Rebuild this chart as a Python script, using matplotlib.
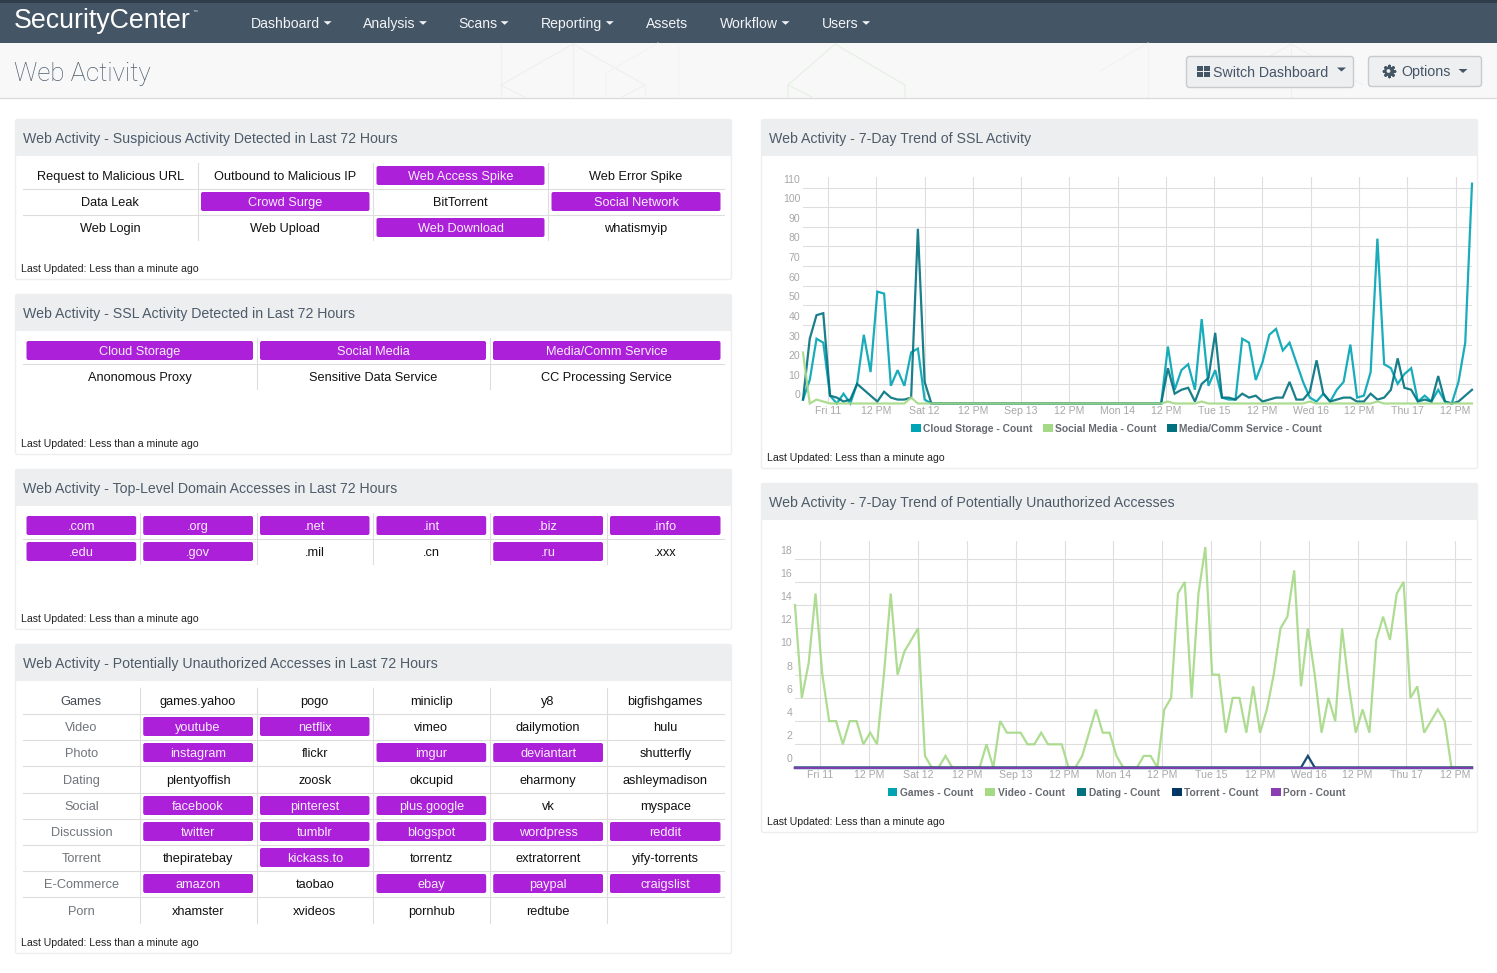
"""SecurityCenter - дашборд Web Activity."""

import matplotlib

matplotlib.use("Agg")
import matplotlib.pyplot as plt
from matplotlib.patches import Circle, FancyBboxPatch, Patch, Polygon, Rectangle
from matplotlib.transforms import ScaledTranslation

W, H = 1497, 973
FONT = "Liberation Sans"
PURPLE = "#ab20d8"
NAVY = "#445566"
GRID = "#dedede"

plt.rcParams["font.family"] = [FONT, "DejaVu Sans"]

# ------------------------------------------------------------------ данные

NAV_ITEMS = ["Dashboard", "Analysis", "Scans", "Reporting", "Assets", "Workflow", "Users"]
NAV_CARET = [True, True, True, True, False, True, True]

SUSPICIOUS = [
    ["Request to Malicious URL", "Outbound to Malicious IP", "Web Access Spike", "Web Error Spike"],
    ["Data Leak", "Crowd Surge", "BitTorrent", "Social Network"],
    ["Web Login", "Web Upload", "Web Download", "whatismyip"],
]
SUSPICIOUS_ON = {"Web Access Spike", "Crowd Surge", "Social Network", "Web Download"}

SSL = [
    ["Cloud Storage", "Social Media", "Media/Comm Service"],
    ["Anonomous Proxy", "Sensitive Data Service", "CC Processing Service"],
]
SSL_ON = {"Cloud Storage", "Social Media", "Media/Comm Service"}

TLD = [
    [".com", ".org", ".net", ".int", ".biz", ".info"],
    [".edu", ".gov", ".mil", ".cn", ".ru", ".xxx"],
]
TLD_ON = {".com", ".org", ".net", ".int", ".biz", ".info", ".edu", ".gov", ".ru"}

UNAUTH = [
    ["Games", "games.yahoo", "pogo", "miniclip", "y8", "bigfishgames"],
    ["Video", "youtube", "netflix", "vimeo", "dailymotion", "hulu"],
    ["Photo", "instagram", "flickr", "imgur", "deviantart", "shutterfly"],
    ["Dating", "plentyoffish", "zoosk", "okcupid", "eharmony", "ashleymadison"],
    ["Social", "facebook", "pinterest", "plus.google", "vk", "myspace"],
    ["Discussion", "twitter", "tumblr", "blogspot", "wordpress", "reddit"],
    ["Torrent", "thepiratebay", "kickass.to", "torrentz", "extratorrent", "yify-torrents"],
    ["E-Commerce", "amazon", "taobao", "ebay", "paypal", "craigslist"],
    ["Porn", "xhamster", "xvideos", "pornhub", "redtube", ""],
]
UNAUTH_ON = {
    "youtube", "netflix", "instagram", "imgur", "deviantart", "facebook", "pinterest",
    "plus.google", "twitter", "tumblr", "blogspot", "wordpress", "reddit", "kickass.to",
    "amazon", "ebay", "paypal", "craigslist",
}

X_TICKS = [3.7, 10.84, 17.99, 25.13, 32.27, 39.41, 46.56, 53.7, 60.84, 67.99, 75.13, 82.27, 89.41, 96.56]
X_LABELS = ["Fri 11", "12 PM", "Sat 12", "12 PM", "Sep 13", "12 PM", "Mon 14",
            "12 PM", "Tue 15", "12 PM", "Wed 16", "12 PM", "Thu 17", "12 PM"]

SSL_YTICKS = [0, 10, 20, 30, 40, 50, 60, 70, 80, 90, 100, 110]
UNAUTH_YTICKS = [0, 2, 4, 6, 8, 10, 12, 14, 16, 18]

cloud_storage = [
    2, 12, 33, 31, 4, 0, 5, 0, 10, 35, 16, 57, 56, 9, 17, 9, 26, 28, 2, 0,
    0, 0, 0, 0, 0, 0, 0, 0, 0, 0, 0, 0, 0, 0, 0, 0, 0, 0, 0, 0,
    0, 0, 0, 0, 0, 0, 0, 0, 0, 0, 0, 0, 0, 0, 29, 7, 17, 20, 7, 43,
    9, 17, 3, 2, 2, 33, 31, 12, 21, 35, 38, 27, 31, 21, 11, 3, 1, 5, 1, 7,
    11, 30, 3, 4, 16, 84, 20, 18, 10, 15, 18, 1, 4, 1, 7, 1, 0, 11, 31, 112,
]
social_media = [
    26, 0, 2, 1, 0, 0, 0, 0, 0, 0, 0, 0, 0, 0, 0, 0, 3, 0, 0, 0,
    0, 0, 0, 0, 0, 0, 0, 0, 0, 0, 0, 0, 0, 0, 0, 0, 0, 0, 0, 0,
    0, 0, 0, 0, 0, 0, 0, 0, 0, 0, 0, 0, 0, 0, 1, 0, 0, 0, 0, 1,
    0, 0, 0, 0, 0, 0, 0, 0, 0, 0, 0, 0, 0, 0, 0, 1, 0, 0, 0, 0,
    0, 0, 0, 0, 0, 1, 0, 0, 0, 0, 0, 0, 0, 0, 0, 0, 0, 0, 0, 0,
]
media_comm = [
    2, 33, 45, 46, 4, 3, 1, 2, 10, 7, 4, 1, 6, 3, 2, 2, 3, 89, 11, 0,
    0, 0, 0, 0, 0, 0, 0, 0, 0, 0, 0, 0, 0, 0, 0, 0, 0, 0, 0, 0,
    0, 0, 0, 0, 0, 0, 0, 0, 0, 0, 0, 0, 0, 0, 18, 5, 7, 8, 1, 10,
    13, 36, 3, 3, 2, 5, 3, 4, 1, 2, 3, 3, 11, 2, 2, 6, 22, 5, 1, 2,
    3, 3, 1, 1, 5, 2, 3, 7, 23, 8, 7, 1, 2, 1, 14, 1, 0, 1, 4, 7,
]

games = [0] * 100
video = [
    14, 6, 9, 15, 8, 4, 4, 2, 4, 4, 2, 3, 2, 8, 15, 8, 10, 11, 12, 1,
    0, 0, 1, 0, 0, 0, 0, 0, 2, 0, 4, 3, 3, 3, 2, 2, 3, 2, 2, 2,
    0, 0, 1, 3, 5, 3, 3, 1, 0, 0, 0, 1, 1, 0, 5, 6, 15, 16, 6, 15,
    19, 8, 8, 3, 6, 6, 3, 7, 3, 5, 8, 12, 13, 17, 7, 12, 8, 3, 6, 4,
    12, 7, 3, 5, 3, 11, 13, 11, 15, 16, 6, 7, 3, 4, 5, 4, 0, 0, 0, 0,
]
dating = [0] * 100
torrent = [
    0, 0, 0, 0, 0, 0, 0, 0, 0, 0, 0, 0, 0, 0, 0, 0, 0, 0, 0, 0,
    0, 0, 0, 0, 0, 0, 0, 0, 0, 0, 0, 0, 0, 0, 0, 0, 0, 0, 0, 0,
    0, 0, 0, 0, 0, 0, 0, 0, 0, 0, 0, 0, 0, 0, 0, 0, 0, 0, 0, 0,
    0, 0, 0, 0, 0, 0, 0, 0, 0, 0, 0, 0, 0, 0, 0, 1, 0, 0, 0, 0,
    0, 0, 0, 0, 0, 0, 0, 0, 0, 0, 0, 0, 0, 0, 0, 0, 0, 0, 0, 0,
]
porn = [0] * 100

# последнее поле - порядок отрисовки: зелёная линия поверх у нуля в графике SSL
SSL_SERIES = [
    ("Cloud Storage - Count", cloud_storage, "#00a4b4", 3),
    ("Social Media - Count", social_media, "#a5d986", 5),
    ("Media/Comm Service - Count", media_comm, "#00727f", 4),
]
UNAUTH_SERIES = [
    ("Games - Count", games, "#00a4b4", 3),
    ("Video - Count", video, "#a5d986", 4),
    ("Dating - Count", dating, "#00727f", 5),
    ("Torrent - Count", torrent, "#003764", 6),
    ("Porn - Count", porn, "#8a3fb0", 7),
]


def pt(px):
    return px * 72 / 100


fig = plt.figure(figsize=(W / 100, H / 100), dpi=100, facecolor="white")
bg = fig.add_axes([0, 0, 1, 1])
bg.set_xlim(0, W)
bg.set_ylim(H, 0)
bg.axis("off")


def label(x, y, s, size=14, color="#333333", ha="left", **kw):
    # по базовой линии, чтобы строки таблицы не прыгали от букв с хвостиками
    return bg.text(x, y + 0.35 * size, s, fontsize=pt(size), color=color, ha=ha, va="baseline", **kw)


def rrect(x0, y0, x1, y1, face, edge="none", r=2, lw=1, z=1):
    bg.add_patch(FancyBboxPatch(
        (x0 + r, y0 + r), x1 - x0 - 2 * r, y1 - y0 - 2 * r,
        boxstyle=f"round,pad={r},rounding_size={r}",
        fc=face, ec=edge, lw=lw, zorder=z,
    ))


def caret(x, y, color, w=4.5, h=4):
    bg.add_patch(Polygon([(x - w, y - h / 2), (x + w, y - h / 2), (x, y + h / 2)],
                         closed=True, fc=color, ec="none", zorder=4))


# ------------------------------------------------------------------ шапка

bg.add_patch(Rectangle((0, 0), W, 3, fc="#2f3c49", ec="none"))
bg.add_patch(Rectangle((0, 3), W, 40, fc=NAVY, ec="none"))
bg.add_patch(Rectangle((0, 43), W, 55, fc="#f8f8f8", ec="none"))
bg.plot([0, W], [98, 98], color="#dcdcdc", lw=1)

# едва заметный узор на подложке
for xs, ys, c in [
    ([501, 501], [43, 97], "#f0f0f0"),
    ([573, 573], [43, 97], "#f0f0f0"),
    ([645, 645], [85, 97], "#f2f2f2"),
    ([501, 573, 645, 622], [85, 44, 85, 97], "#efefef"),
    ([501, 524], [85, 97], "#efefef"),
    ([606, 606, 658], [97, 73, 43], "#f3f3f3"),
    ([678, 678], [43, 97], "#f4f4f4"),
    ([788, 788, 835, 905, 905], [97, 85, 44, 85, 97], "#e4f0e2"),
    ([788, 812], [85, 97], "#e4f0e2"),
    ([1148, 1148], [43, 97], "#f2f2f2"),
    ([1100, 1148], [71, 43], "#f2f2f2"),
    ([1220, 1291, 1363], [85, 44, 85], "#efefef"),
    ([1291, 1291], [44, 97], "#efefef"),
]:
    bg.plot(xs, ys, color=c, lw=0.8, zorder=1)

label(14, 18.5, "SecurityCenter", size=26.8, color="white")
label(192.5, 10, "\u2122", size=5, color="#dfe3e7")

nav_x = [251, 363, 458, 541, 646, 720, 822]
for x, name, has_caret in zip(nav_x, NAV_ITEMS, NAV_CARET):
    t = label(x, 23, name, size=14, color="#f2f4f6")
    if has_caret:
        ext = t.get_window_extent(fig.canvas.get_renderer())
        caret(ext.x1 + 7.5, 23, "#f2f4f6", w=4, h=3.6)

label(14, 71.5, "Web Activity", size=25.8, color="#4d5f70", family="Roboto", fontweight="light")

rrect(1186.5, 56.5, 1353.5, 87.5, "#eeeff1", "#c9cacc", r=3)
for ix, iy in [(1197, 66), (1204, 66), (1197, 72), (1204, 72)]:
    bg.add_patch(Rectangle((ix, iy), 6, 5, fc=NAVY, ec="none", zorder=4))
label(1213, 72, "Switch Dashboard", size=14.1, color=NAVY, zorder=4)
caret(1341.5, 69.5, NAVY, w=4.5, h=4)

rrect(1368.5, 56.5, 1481.5, 86.5, "#eeeff1", "#c9cacc", r=3)
# шестерёнка: зубцы, диск и отверстие
bg.scatter([1388.5], [71], marker=(8, 2, 0), s=62, linewidths=2, color=NAVY, zorder=4)
bg.add_patch(Circle((1388.5, 71), 4.4, fc=NAVY, ec="none", zorder=5))
bg.add_patch(Circle((1388.5, 71), 1.9, fc="#eeeff1", ec="none", zorder=6))
label(1401, 71, "Options", size=14.2, color=NAVY, zorder=4)
caret(1463, 71, NAVY, w=4.5, h=4)

# ------------------------------------------------------------------ панели


def panel(x0, y0, x1, y1, title, foot_y):
    rrect(x0 + 0.5, y0 + 0.5, x1 - 0.5, y1 - 0.5, "white", "#eeeeee", r=2)
    rrect(x0, y0, x1, y0 + 37, "#edeef0", r=2, z=2)
    label(x0 + 8, y0 + 19, title, size=14.15, color="#4d5b69", zorder=3)
    label(x0 + 6, foot_y, "Last Updated: Less than a minute ago", size=10.55, color="#222222", zorder=3)


def grid_table(x_edges, row_y, rows, on, y_top, y_bot, first_grey=False):
    """Таблица индикаторов: row_y - центры строк, on - подсвеченные ячейки."""
    for x in x_edges[1:-1]:
        bg.plot([x, x], [y_top, y_bot], color="#dddddd", lw=0.8, zorder=2)
    for a, b in zip(row_y[:-1], row_y[1:]):
        y = (a + b) / 2
        bg.plot([x_edges[0], x_edges[-1]], [y, y], color="#dddddd", lw=0.8, zorder=2)
    for r, row in enumerate(rows):
        for c, s in enumerate(row):
            x0, x1 = x_edges[c], x_edges[c + 1]
            cx = (x0 + x1) / 2
            if s in on:
                rrect(x0 + 3.5, row_y[r] - 9.5, x1 - 3.5, row_y[r] + 9.5, PURPLE, r=2, z=3)
                label(cx, row_y[r], s, size=12.7, color="#f8eefc", ha="center", zorder=4)
            elif first_grey and c == 0:
                label(cx, row_y[r], s, size=12.7, color="#444b52" if r == 0 else "#70757a", ha="center", zorder=4)
            else:
                label(cx, row_y[r], s, size=12.7, color="#111111", ha="center", zorder=4)


panel(15, 119, 732, 280, "Web Activity - Suspicious Activity Detected in Last 72 Hours", 268.5)
panel(15, 294, 732, 455, "Web Activity - SSL Activity Detected in Last 72 Hours", 443.5)
panel(15, 469, 732, 630, "Web Activity - Top-Level Domain Accesses in Last 72 Hours", 618.5)
panel(15, 644, 732, 954, "Web Activity - Potentially Unauthorized Accesses in Last 72 Hours", 942.5)
panel(761, 119, 1478, 469, "Web Activity - 7-Day Trend of SSL Activity", 457.5)
panel(761, 483, 1478, 833, "Web Activity - 7-Day Trend of Potentially Unauthorized Accesses", 821.5)

grid_table([23, 197.5, 373, 548, 724], [175.5, 201.5, 227.5], SUSPICIOUS, SUSPICIOUS_ON, 163, 240)
grid_table([23, 256.5, 489.5, 724], [350.5, 376.5], SSL, SSL_ON, 338, 389)
six = [23, 139.7, 256.5, 373, 489.7, 606.5, 724]
grid_table(six, [525.5, 551.5], TLD, TLD_ON, 513, 564)
grid_table(six, [700.5, 726.5, 752.5, 779.5, 805.5, 831.5, 857.5, 883.5, 910.5],
           UNAUTH, UNAUTH_ON, 688, 923, first_grey=True)


# ------------------------------------------------------------------ графики


def trend_chart(x0, x1, y_top, y_zero, px_per_unit, series, yticks, legend_y, col_gap):
    box = [x0 / W, 1 - y_zero / H, (x1 - x0) / W, (y_zero - y_top) / H]
    ax = fig.add_axes(box, facecolor="none")
    for name, values, color, order in series:
        ax.plot(range(len(values)), values, color=color, lw=1.6, label=name, clip_on=False,
                solid_joinstyle="miter", alpha=0.9, zorder=order)
    ax.set_xlim(0, 99)
    ax.set_ylim(0, (y_zero - y_top) / px_per_unit)
    ax.set_xticks(X_TICKS, X_LABELS)
    ax.set_yticks(yticks)
    ax.grid(True, color=GRID, lw=0.8)
    ax.set_axisbelow(True)
    for side in ax.spines.values():
        side.set_visible(False)
    ax.tick_params(length=0, labelsize=pt(10.5), labelcolor="#a8a8a8", pad=2)
    shift = ScaledTranslation(0, 9 / 100, fig.dpi_scale_trans)
    for tick in ax.get_yticklabels():
        tick.set_transform(tick.get_transform() + shift)
    handles = [Patch(fc=s[2], ec="none", label=s[0]) for s in series]
    fig.legend(
        handles=handles, loc="center", bbox_to_anchor=(1116.5 / W, 1 - legend_y / H),
        ncol=len(series), frameon=False, handlelength=0.95, handleheight=0.95,
        handletextpad=0.25, columnspacing=col_gap, borderpad=0,
        labelcolor="#666a70", prop={"family": FONT, "weight": "bold", "size": pt(10.2)},
    )
    return ax


trend_chart(803, 1472, 177, 403.5, 1.963, SSL_SERIES, SSL_YTICKS, 428.5, 1.0)
trend_chart(795, 1472, 541, 767.5, 11.6, UNAUTH_SERIES, UNAUTH_YTICKS, 792.5, 1.2)

fig.savefig("out.png", dpi=100)
